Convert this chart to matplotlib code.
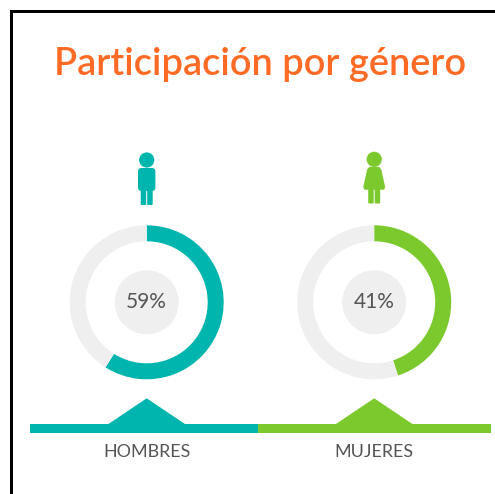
import matplotlib
matplotlib.use("Agg")
import matplotlib.pyplot as plt
from matplotlib.patches import Circle, FancyBboxPatch, Polygon, Rectangle

title = "Participación por género"
categories = ["HOMBRES", "MUJERES"]
labels = ["59%", "41%"]
# arc sizes as drawn in the picture (the right-hand arc is longer than its label says)
arc_shares = [59, 45]

TEAL = "#00B5AD"
GREEN = "#7CC92E"
GREY = "#EFEFEF"
ORANGE = "#FF6B25"
TEXT = "#555555"
colors = [TEAL, GREEN]
centers_x = [146.7, 374.2]

W, H = 495, 494
plt.rcParams["font.family"] = ["Lato", "DejaVu Sans"]
fig = plt.figure(figsize=(W / 100, H / 100), dpi=100, facecolor="white")
ax = fig.add_axes([0, 0, 1, 1])


def Y(py):
    return H - py


for cx, share, color, label, cat in zip(centers_x, arc_shares, colors, labels, categories):
    ax.pie([share, 100 - share], colors=[color, GREY], startangle=90, counterclock=False,
           center=(cx, Y(302.3)), radius=77, frame=True,
           wedgeprops=dict(width=16, linewidth=0))
    ax.add_patch(Circle((cx, Y(302.3)), 32, fc=GREY, ec="none"))
    ax.text(cx, Y(302.5), label, ha="center", va="center", fontsize=15, color=TEXT)
    ax.text(cx, Y(451.7), cat, ha="center", va="center", fontsize=12.9, color=TEXT)

# baseline band with peaks
band = [(30, 258), (258, 491)]
for (x0, x1), cx, color in zip(band, centers_x, colors):
    ax.add_patch(Rectangle((x0, Y(432.7)), x1 - x0, 8.4, fc=color, ec="none"))
    ax.add_patch(Polygon([(cx - 39, Y(424.5)), (cx, Y(398.3)), (cx + 39, Y(424.5))], fc=color, ec="none"))

# man icon
cx = 146.7
ax.add_patch(Circle((cx, Y(160)), 7.6, fc=TEAL, ec="none"))
ax.add_patch(FancyBboxPatch((cx - 8.7, Y(191)), 17.4, 23, boxstyle="round,pad=0,rounding_size=3.5",
                            fc=TEAL, ec="none"))
for dx in (-6, 0.5):
    ax.add_patch(FancyBboxPatch((cx + dx + 1, Y(204)), 3.5, 16, boxstyle="round,pad=1", fc=TEAL, ec="none"))

# woman icon
cx = 374.2
ax.add_patch(Circle((cx, Y(159.3)), 7.6, fc=GREEN, ec="none"))
ax.add_patch(Polygon([(cx - 4.5, Y(167.5)), (cx + 4.5, Y(167.5)), (cx + 6.5, Y(170)), (cx + 10.2, Y(187)),
                      (cx + 9.5, Y(189)), (cx - 9.5, Y(189)), (cx - 10.2, Y(187)), (cx - 6.5, Y(170))],
                     fc=GREEN, ec=GREEN, lw=1, joinstyle="round"))
for dx in (-6, 0.5):
    ax.add_patch(FancyBboxPatch((cx + dx + 1, Y(202.5)), 3.5, 16, boxstyle="round,pad=1", fc=GREEN, ec="none"))

ax.text(260, Y(75), title, ha="center", va="baseline", fontsize=27.4, color=ORANGE, fontweight="semibold")

# frame: top and left edges only
ax.add_patch(Rectangle((9.5, Y(494)), 3, 483.5, fc="black", ec="none"))
ax.add_patch(Rectangle((9.5, Y(13.5)), 485.5, 3, fc="black", ec="none"))

ax.set_xlim(0, W)
ax.set_ylim(0, H)
ax.set_aspect("equal")
ax.set_axis_off()
fig.savefig("out.png", dpi=100, facecolor="white")
